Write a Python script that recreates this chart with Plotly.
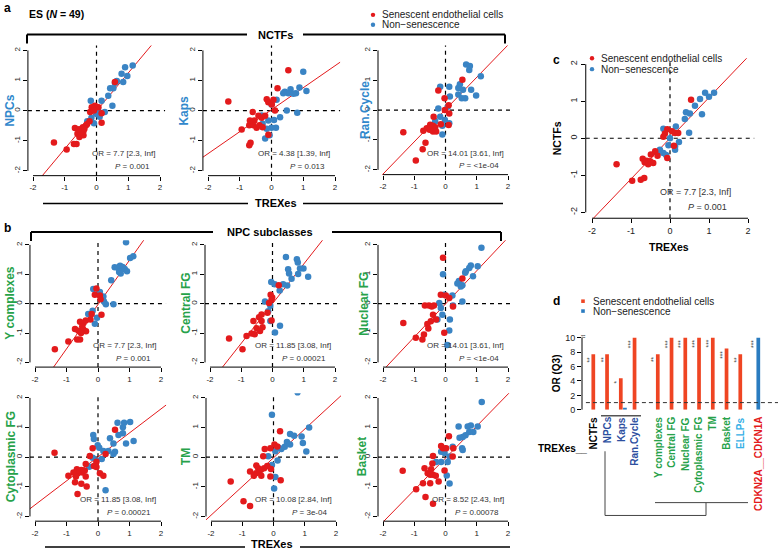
import numpy as np
import plotly.graph_objects as go

# ---------------- data ----------------
NPCS_SEN_X = [0.58, -0.05, -0.15, 0.06, 0.16, -0.20, -0.08, 0.16, -0.22, -0.33, -0.43, -0.68, -0.52, -0.60, -0.47, -0.41, -0.54, -0.41, -1.34, -0.71, -0.63, -0.94, -0.30, -0.50, -0.55, -0.38]
NPCS_SEN_Y = [0.95, 0.16, 0.11, 0.11, -0.09, -0.05, 0.00, -0.40, -0.35, -0.49, -0.55, -0.58, -0.66, -0.77, -0.77, -0.68, -0.88, -0.82, -1.06, -1.11, -1.11, -1.29, -0.45, -0.72, -0.62, -0.60]
NPCS_NON_X = [1.14, 0.90, 0.97, 0.79, 0.84, 0.64, 0.58, 0.43, 0.53, 0.37, 0.50, 0.16, -0.18, -0.16, 0.00, 0.10, 0.26, -0.08, -0.29, 0.05, 0.03]
NPCS_NON_Y = [1.50, 1.44, 1.15, 1.22, 0.95, 0.98, 0.92, 0.74, 0.74, 0.49, 0.16, 0.33, 0.33, -0.24, -0.11, -0.20, -0.05, -0.42, -0.35, 0.02, 0.10]

KAPS_SEN_X = [0.53, 0.19, -1.36, -0.15, -0.10, 0.01, 0.06, 0.11, -0.59, -0.54, -0.41, -0.31, -0.20, -0.70, -0.57, -0.47, -0.38, -0.94, -0.68, -0.28, -0.66, -0.70, -0.10]
KAPS_SEN_Y = [1.34, 0.74, 0.30, 0.38, 0.28, 0.20, 0.36, 0.00, -0.05, -0.33, -0.17, -0.24, -0.17, -0.49, -0.49, -0.57, -0.49, -0.63, -0.33, -0.55, -1.07, -1.15, -0.80]
KAPS_NON_X = [1.00, 0.88, 1.10, 0.60, 0.42, 0.53, 0.77, 0.37, 0.69, 0.48, 0.81, 0.16, 0.00, -0.31, -0.10, 0.08, 0.27, -0.15, 0.00, 0.14, -0.20, -0.06, -0.28]
KAPS_NON_Y = [1.29, 0.77, 0.65, 0.71, 0.63, 0.58, 0.58, 0.58, 0.56, 0.00, -0.07, 0.36, 0.20, -0.16, -0.33, -0.31, -0.22, -0.60, -0.57, -0.57, -0.93, -0.82, -0.44]

RAN_SEN_X = [0.54, -0.23, -0.03, 0.10, -0.02, -0.38, 0.12, -0.49, -0.40, -0.33, -0.60, -0.51, -0.71, -0.40, -0.15, 0.10, -0.30, -1.35, -0.64, -0.73, -0.95]
RAN_SEN_Y = [1.02, 0.66, 0.40, 0.16, 0.00, -0.22, -0.11, -0.49, -0.52, -0.57, -0.61, -0.66, -0.69, -0.72, -0.47, -0.50, -0.72, -0.74, -1.09, -1.31, -1.69]
RAN_NON_X = [1.13, 0.66, 0.78, 0.76, 0.46, 0.41, 0.56, 0.82, 0.98, 0.41, 0.52, 0.63, 0.12, -0.17, -0.23, 0.07, 0.14, -0.02, -0.33, -0.10, -0.17, 0.12, -0.10]
RAN_NON_Y = [1.13, 1.53, 1.48, 1.34, 0.87, 0.74, 0.68, 0.68, 0.49, 0.52, 0.40, 0.40, 0.78, 0.78, 0.05, 0.11, 0.46, -0.33, -0.38, -0.52, -0.22, -0.44, -0.82]

YC_SEN_X = [-0.05, -0.10, 0.06, 0.08, 0.11, -0.20, -0.24, -0.39, -0.46, -0.57, -0.50, -0.73, -0.62, -0.46, -0.38, -0.54, -0.66, -0.57, -0.94, -1.37]
YC_SEN_Y = [0.52, 0.30, 0.28, 0.15, -0.38, -0.35, -0.54, -0.57, -0.66, -0.62, -0.77, -0.86, -0.92, -0.89, -0.94, -1.00, -1.22, -1.22, -1.29, -1.55]
YC_NON_X = [0.89, 1.12, 1.02, 0.78, 0.53, 0.63, 0.70, 0.85, 0.92, 0.67, 0.72, 0.42, -0.15, 0.00, 0.17, 0.06, 0.19, 0.25, 0.49, -0.17, -0.31, -0.03, -0.10]
YC_NON_Y = [2.09, 1.61, 1.55, 1.25, 1.24, 1.22, 1.29, 1.18, 1.10, 1.08, 1.03, 0.80, 0.50, 0.32, 0.24, 0.40, 0.07, -0.02, -0.02, -0.24, -0.35, -0.48, -0.68]

CFG_SEN_X = [0.20, -0.06, -0.01, -0.03, -0.11, -0.35, -0.43, -0.61, -0.16, -0.35, -0.32, -0.51, -0.67, -0.57, -0.40, -0.83, -1.39, -0.96, -0.03]
CFG_SEN_Y = [0.63, 0.30, 0.21, 0.13, 0.02, -0.37, -0.46, -0.59, -0.31, -0.59, -0.80, -0.84, -1.02, -1.04, -0.93, -1.10, -1.19, -1.55, -0.57]
CFG_NON_X = [0.43, 0.78, 0.81, 0.99, 0.88, 1.14, 0.50, 0.53, 0.82, 0.61, 0.47, 0.34, 0.23, -0.04, 0.07, -0.24, -0.07, -0.14, -0.07, 0.24, 0.08]
CFG_NON_Y = [1.59, 1.51, 1.40, 1.20, 1.20, 0.92, 1.17, 1.03, 1.01, 0.85, 0.62, 0.66, 0.45, 0.74, 0.66, 0.07, -0.07, -0.26, -0.59, -0.75, -0.98]

NFG_SEN_X = [-0.08, 0.54, -0.15, 0.01, 0.12, -0.66, -0.53, -0.44, -0.37, 0.24, -0.40, -0.47, -0.58, -0.55, -0.69, -0.95, -0.74, -1.35, -0.04, -0.30]
NFG_SEN_Y = [1.56, 0.86, 0.30, 0.28, 0.19, -0.06, -0.06, -0.10, -0.06, -0.10, -0.38, -0.60, -0.69, -0.85, -1.05, -1.16, -1.22, -0.66, -0.99, -0.54]
NFG_NON_X = [1.15, 1.03, 0.81, 0.76, 0.65, 0.88, 0.63, 0.43, 0.54, 0.49, 0.38, -0.08, -0.04, 0.22, 0.54, 0.24, -0.20, -0.15, -0.10, -0.26, 0.14, 0.12, 0.06]
NFG_NON_Y = [1.90, 1.27, 1.30, 1.21, 1.10, 0.93, 1.05, 0.77, 0.63, 0.58, 0.69, 1.00, 0.30, 0.28, 0.07, -0.06, 0.02, -0.15, -0.38, -0.54, -0.54, -0.91, -1.41]

CYT_SEN_X = [0.54, -1.38, -0.17, -0.26, 0.24, -0.05, -0.13, -0.05, -0.39, -0.67, -0.53, -0.49, -0.42, -0.64, -0.78, -0.94, -0.70, -0.39, 0.06, 0.17, -0.73, -0.53, -0.36, -0.65]
CYT_SEN_Y = [0.93, 0.15, 0.30, 0.04, 0.11, -0.15, -0.30, -0.33, -0.23, -0.41, -0.43, -0.52, -0.45, -0.54, -0.52, -0.63, -0.65, -0.65, -0.54, -0.63, -0.85, -0.90, -0.99, -1.24]
CYT_NON_X = [1.02, 0.83, 0.62, 0.79, 0.79, 0.65, 1.13, 0.89, 0.49, 0.38, 0.54, 0.49, -0.15, -0.13, -0.01, 0.04, 0.17, 0.33, -0.17, -0.05, 0.12, -0.28, 0.24]
CYT_NON_Y = [1.19, 1.16, 1.16, 1.01, 0.81, 0.75, 0.55, 0.46, 0.46, 0.64, 0.18, 0.11, 0.75, 0.61, 0.40, 0.32, 0.21, 0.21, -0.02, -0.11, -0.06, -0.32, -1.12]

TM_SEN_X = [0.21, 0.03, -0.10, -0.28, -0.33, 0.12, -0.55, -0.49, -0.30, -0.75, -0.56, -0.46, -0.08, -0.63, -0.39, -0.10, 0.23, -1.37, -0.96, -0.75, -0.20, -0.40]
TM_SEN_Y = [0.88, 0.43, 0.30, 0.28, 0.03, 0.36, -0.28, -0.37, -0.37, -0.48, -0.54, -0.48, -0.40, -0.63, -0.63, -0.65, -0.78, -0.82, -1.49, -1.65, -0.30, -0.42]
TM_NON_X = [0.77, -0.05, 1.14, 0.53, 0.66, 0.90, 0.94, 0.43, 0.53, 0.36, 0.17, 0.06, 0.25, 1.05, -0.17, 0.13, -0.05, 0.06, 0.02]
TM_NON_Y = [2.19, 1.43, 1.00, 0.78, 0.72, 0.70, 0.48, 0.51, 0.43, 0.35, 0.32, 0.20, 0.28, 0.19, 0.03, -0.11, -0.26, -0.67, -1.06]

BSK_SEN_X = [0.11, -0.14, -0.08, 0.02, 0.25, -0.40, 0.23, -0.42, -0.67, -0.46, -0.57, -0.40, -0.31, -0.49, -0.22, -0.72, -0.49, -0.03, -1.37, -0.94, -0.64, -0.40]
BSK_SEN_Y = [0.71, 0.38, 0.30, 0.30, 0.30, 0.04, 0.02, -0.21, -0.37, -0.41, -0.54, -0.59, -0.63, -0.59, -0.82, -0.88, -0.88, -0.45, -0.46, -1.08, -1.34, -1.57]
BSK_NON_X = [1.16, 1.03, 0.81, 0.71, 0.42, 0.89, 0.76, 0.64, 0.55, 0.45, 0.53, 0.55, 0.23, -0.14, -0.03, -0.30, -0.14, 0.07, 0.13, 0.04, 0.13]
BSK_NON_Y = [1.86, 1.04, 1.07, 1.04, 1.04, 0.85, 0.85, 0.74, 0.68, 0.66, 0.30, 0.24, 0.35, 0.18, 0.14, -0.16, -0.16, -0.16, 0.02, -0.62, -0.89]

NCTF_SEN_X = [0.54, -0.07, 0.05, -0.13, 0.13, 0.21, -0.17, 0.10, -0.07, -0.38, -0.49, -0.32, -0.70, -0.60, -0.51, -0.43, -0.56, -0.65, -1.37, -0.97, -0.75, -0.66]
NCTF_SEN_Y = [1.04, 0.24, 0.19, 0.13, 0.14, 0.14, 0.04, -0.20, -0.53, -0.35, -0.44, -0.47, -0.55, -0.61, -0.62, -0.67, -0.70, -0.65, -0.70, -1.15, -1.12, -1.07]
NCTF_NON_X = [1.13, 0.90, 1.00, 0.77, 0.64, 0.82, 0.41, 0.51, 0.38, 0.49, 0.15, -0.17, 0.00, -0.04, 0.23, 0.13, 0.13, -0.26, -0.32, -0.17, -0.10]
NCTF_NON_Y = [1.23, 1.23, 1.12, 1.06, 0.88, 0.65, 0.70, 0.67, 0.52, 0.15, 0.32, 0.26, 0.00, -0.19, -0.10, -0.22, -0.31, -0.31, -0.40, -0.40, -0.45]

PANEL_NAMES = ["NPCs", "Kaps", "Ran.Cycle", "Y complexes", "Central FG", "Nuclear FG",
               "Cytoplasmic FG", "TM", "Basket", "NCTFs"]
FIT_SLOPE = [1.26, 0.73, 1.08, 1.51, 1.35, 1.13, 0.81, 0.97, 1.08, 1.10]
FIT_INTERCEPT = [-0.01, 0.03, 0.02, -0.03, 0.00, -0.01, 0.01, -0.02, -0.03, 0.00]
OR_TEXT = ["7.7 [2.3, Inf]", "4.38 [1.39, Inf]", "14.01 [3.61, Inf]", "7.7 [2.3, Inf]",
           "11.85 [3.08, Inf]", "14.01 [3.61, Inf]", "11.85 [3.08, Inf]", "10.08 [2.84, Inf]",
           "8.52 [2.43, Inf]", "7.7 [2.3, Inf]"]
P_TEXT = ["0.001", "0.013", "&lt;1e-04", "0.001", "0.00021", "&lt;1e-04", "0.00021", "3e-04",
          "0.00078", "0.001"]
AXIS_TICKS = [-2, -1, 0, 1, 2]
AXIS_TICK_TEXT = ["-2", "-1", "0", "1", "2"]

BAR_CATS = ["NCTFs", "NPCs", "Kaps", "Ran.Cycle", "Y complexes", "Central FG", "Nuclear FG",
            "Cytoplasmic FG", "TM", "Basket", "ELLPs", "CDKN2A__CDKN1A"]
BAR_GROUP = [0, 0, 0, 0, 1, 1, 1, 1, 1, 1, 1, 2]
SEN_OR = [7.7, 7.7, 4.38, 14.01, 7.7, 11.85, 14.01, 11.85, 10.08, 8.52, 7.7, 0]
NON_OR = [0, 0, 0.25, 0, 0, 0, 0, 0, 0, 0, 0, 14.0]
STARS = ["**", "**", "*", "***", "**", "***", "***", "***", "***", "***", "**", "***"]
OR_TICKS = [0, 2, 4, 6, 8, 10]

# ---------------- styling ----------------
W, H = 778, 556
FONT = "Liberation Sans, Arial, Helvetica, sans-serif"
RED = "#E31A1C"
BLUE = "#3A84C4"
BAR_RED = "#EF4523"
BAR_BLUE = "#2A7CC0"
LBL_BLUE = "#3188CC"
LBL_GREEN = "#27A24A"
DARK_BLUE = "#2D4F9F"
ELLP_BLUE = "#36B0E6"


def px(x):
    return x / W


def py(y):
    return 1 - y / H


def box(xm2, xp2, yp2, ym2):
    sx = (xp2 - xm2) / 4.0
    sy = (ym2 - yp2) / 4.0
    return (xm2 - 0.16 * sx, yp2 - 0.16 * sy, xp2 + 0.16 * sx, ym2 + 0.16 * sy)


# pixel layout of each scatter (tick -2 / 2 positions), label x centre, label colour
PANEL_BOX = [
    box(33, 160, 49, 171), box(208, 335, 49, 171), box(383, 508, 49, 170),
    box(35, 161, 246, 365), box(210, 335, 246, 365), box(383, 508, 246, 365),
    box(35, 161, 401, 521), box(211, 336, 401, 521), box(383, 508, 401, 521),
    box(592, 748, 63, 213),
]
LABEL_X = [10, 184, 365, 10, 186, 364, 11, 186, 362, 557]
LABEL_COL = [LBL_BLUE] * 3 + [LBL_GREEN] * 6 + ["black"]

DATA = [
    (NPCS_SEN_X, NPCS_SEN_Y, NPCS_NON_X, NPCS_NON_Y),
    (KAPS_SEN_X, KAPS_SEN_Y, KAPS_NON_X, KAPS_NON_Y),
    (RAN_SEN_X, RAN_SEN_Y, RAN_NON_X, RAN_NON_Y),
    (YC_SEN_X, YC_SEN_Y, YC_NON_X, YC_NON_Y),
    (CFG_SEN_X, CFG_SEN_Y, CFG_NON_X, CFG_NON_Y),
    (NFG_SEN_X, NFG_SEN_Y, NFG_NON_X, NFG_NON_Y),
    (CYT_SEN_X, CYT_SEN_Y, CYT_NON_X, CYT_NON_Y),
    (TM_SEN_X, TM_SEN_Y, TM_NON_X, TM_NON_Y),
    (BSK_SEN_X, BSK_SEN_Y, BSK_NON_X, BSK_NON_Y),
    (NCTF_SEN_X, NCTF_SEN_Y, NCTF_NON_X, NCTF_NON_Y),
]

fig = go.Figure()
layout = {}
shapes = []
annotations = []


def names(n):
    if n == 1:
        return "xaxis", "yaxis", "x", "y"
    return f"xaxis{n}", f"yaxis{n}", f"x{n}", f"y{n}"


def hline(x0, x1, y, width=1.0, color="black", dash=None):
    d = dict(color=color, width=width)
    if dash:
        d["dash"] = dash
    shapes.append(dict(type="line", xref="paper", yref="paper", x0=px(x0), x1=px(x1),
                       y0=py(y), y1=py(y), line=d))


def vline(x, y0, y1, width=1.0, color="black"):
    shapes.append(dict(type="line", xref="paper", yref="paper", x0=px(x), x1=px(x),
                       y0=py(y0), y1=py(y1), line=dict(color=color, width=width)))


def text(x, y, s, size=10, color="black", bold=False, xanchor="center", yanchor="middle",
         angle=0, xref="paper", yref="paper"):
    if bold:
        s = f"<b>{s}</b>"
    annotations.append(dict(x=x, y=y, xref=xref, yref=yref, text=s, showarrow=False,
                            xanchor=xanchor, yanchor=yanchor, textangle=angle,
                            font=dict(family=FONT, size=size, color=color)))


for i, (sx, sy, nx, ny) in enumerate(DATA):
    n = i + 1
    xa, ya, xr, yr = names(n)
    l, t, r, b = PANEL_BOX[i]
    big = (n == 10)
    tick_size = 9 if big else 8
    common = dict(range=[-2.16, 2.16], showgrid=False, zeroline=False, showline=False,
                  ticks="outside", ticklen=4, tickwidth=1, tickcolor="black",
                  tickvals=AXIS_TICKS, ticktext=AXIS_TICK_TEXT,
                  tickfont=dict(family=FONT, size=tick_size, color="#222"), fixedrange=True)
    layout[xa] = dict(domain=[px(l), px(r)], anchor=yr, **common)
    layout[ya] = dict(domain=[py(b), py(t)], anchor=xr, tickangle=-90, **common)

    # regression line
    lx = np.array([-3.0, 3.0])
    fig.add_trace(go.Scatter(x=lx, y=FIT_SLOPE[i] * lx + FIT_INTERCEPT[i], mode="lines",
                             line=dict(color=RED, width=1), xaxis=xr, yaxis=yr,
                             hoverinfo="skip"))
    msize = 6.5
    fig.add_trace(go.Scatter(x=nx, y=ny, mode="markers", marker=dict(color=BLUE, size=msize),
                             xaxis=xr, yaxis=yr))
    fig.add_trace(go.Scatter(x=sx, y=sy, mode="markers", marker=dict(color=RED, size=msize),
                             xaxis=xr, yaxis=yr))

    # R-style axis lines (span the tick range only)
    shapes.append(dict(type="line", xref=xr, yref=f"{yr} domain", x0=-2, x1=2, y0=0, y1=0,
                       line=dict(color="black", width=1)))
    shapes.append(dict(type="line", xref=f"{xr} domain", yref=yr, x0=0, x1=0, y0=-2, y1=2,
                       line=dict(color="black", width=1)))
    # dashed zero lines
    shapes.append(dict(type="line", xref=f"{xr} domain", yref=yr, x0=0, x1=1, y0=0, y1=0,
                       layer="below", line=dict(color="black", width=1.2, dash="4px,4px")))
    shapes.append(dict(type="line", xref=xr, yref=f"{yr} domain", x0=0, x1=0, y0=0, y1=1,
                       layer="below", line=dict(color="black", width=1.2, dash="4px,4px")))

    # OR / P
    fs = 9 if big else 8
    orx, prx = (1.62, 1.52) if big else (1.92, 1.76)
    text(orx, -1.44, "OR = " + OR_TEXT[i], size=fs, color="#333", xanchor="right",
         xref=xr, yref=yr)
    text(prx, -1.86, "<i>P</i> = " + P_TEXT[i], size=fs, color="#333", xanchor="right",
         xref=xr, yref=yr)

    # y label
    cy = (t + b) / 2
    text(px(LABEL_X[i]), py(cy), PANEL_NAMES[i], size=10.5 if big else 12,
         color=LABEL_COL[i], bold=True, angle=-90)

# panel c x label
text(px(669), py(248), "TREXes", size=10.5, bold=True)

# ---------------- panel d (bar chart) ----------------
GAPS = [0.0, 0.69, 1.0]
pos = np.arange(len(BAR_CATS)) + np.array([GAPS[g] for g in BAR_GROUP])
sen = np.minimum(np.array(SEN_OR, dtype=float), 10)
non = np.minimum(np.array(NON_OR, dtype=float), 10)
non_pos = pos + np.where(np.array(SEN_OR) > 0, 0.3, 0.0)

slot = 13.75
x0px = 593.3
d_left, d_right = 582, 778
d_bottom, d_top = 413, 413 - 10.4 * 7.3
layout["xaxis11"] = dict(domain=[px(d_left), px(d_right)],
                         range=[(d_left - x0px) / slot, (d_right - x0px) / slot],
                         anchor="y11", visible=False, fixedrange=True)
layout["yaxis11"] = dict(domain=[py(d_bottom), py(d_top)], range=[0, 10.4], anchor="x11",
                         showgrid=False, zeroline=False, showline=False, ticks="outside",
                         ticklen=4, tickcolor="black", tickvals=OR_TICKS,
                         tickfont=dict(family=FONT, size=9, color="#222"), fixedrange=True)
fig.add_trace(go.Bar(x=pos, y=sen, width=0.27, marker=dict(color=BAR_RED, line=dict(width=0)),
                     xaxis="x11", yaxis="y11"))
fig.add_trace(go.Bar(x=non_pos, y=non, width=0.27, marker=dict(color=BAR_BLUE, line=dict(width=0)),
                     xaxis="x11", yaxis="y11"))
shapes.append(dict(type="line", xref="x11 domain", yref="y11", x0=0, x1=0, y0=0, y1=10,
                   line=dict(color="black", width=1)))
shapes.append(dict(type="line", xref="x11 domain", yref="y11", x0=0.02, x1=1, y0=1, y1=1,
                   line=dict(color="#333", width=1, dash="4px,3px")))
for k, cat in enumerate(BAR_CATS):
    top = sen[k] if sen[k] > 0 else non[k]
    xs = pos[k] if sen[k] > 0 else non_pos[k]
    text(xs - 0.3, top, STARS[k], size=6.5, color="#444", yanchor="top", xanchor="center",
         angle=-90, xref="x11", yref="y11")
LBL_COLORS = ["black", DARK_BLUE, DARK_BLUE, DARK_BLUE] + [LBL_GREEN] * 6 + [ELLP_BLUE, RED]
for k, cat in enumerate(BAR_CATS):
    text(pos[k], py(418), cat, size=10, color=LBL_COLORS[k], bold=True, angle=-90,
         yanchor="top", xref="x11", yref="paper")
text(px(589), py(452), "TREXes__", size=10, bold=True, xanchor="right")
text(px(556), py(376), "OR (Q3)", size=10, bold=True, angle=-90)
text(px(583), py(339), "≈", size=8, color="#333")

# dendrogram lines
vline(605, 455, 520, color="#444")
hline(605, 706, 520, color="#444")
vline(706, 520, 507, color="#444")
hline(655, 748, 507, color="#444")
hline(601, 641, 419, width=1.5, color="#555")

# ---------------- titles, brackets, legends ----------------
text(px(2), py(6), "a", size=12, bold=True, xanchor="left")
text(px(27), py(12), "ES (<i>N</i> = 49)", size=10.5, bold=True, xanchor="left")
text(px(2), py(229), "b", size=12, bold=True, xanchor="left")
text(px(551), py(59), "c", size=12, bold=True, xanchor="left")
text(px(551), py(303), "d", size=12, bold=True, xanchor="left")

# NCTFs bracket
vline(27, 42, 33, width=2)
hline(27, 247, 33, width=2)
hline(303, 505, 33, width=2)
vline(505, 33, 42, width=2)
text(px(275), py(33), "NCTFs", size=11, bold=True)
# TREXes (panel a)
hline(43, 248, 204, width=1.5)
hline(303, 503, 204, width=1.5)
text(px(276), py(204), "TREXes", size=11, bold=True)
# NPC subclasses bracket
vline(31, 242, 233, width=2)
hline(31, 213, 233, width=2)
hline(332, 501, 233, width=2)
vline(501, 233, 242, width=2)
text(px(270), py(233), "NPC subclasses", size=11, bold=True)
# TREXes (panel b)
hline(45, 245, 552, width=1.5)
hline(300, 510, 552, width=1.5)
text(px(271.5), py(549), "TREXes", size=11, bold=True)


def legend_dot(x, y, color, r=2.2):
    shapes.append(dict(type="circle", xref="paper", yref="paper", x0=px(x - r), x1=px(x + r),
                       y0=py(y + r), y1=py(y - r), fillcolor=color, line=dict(width=0)))


def legend_sq(x, y, color, r=1.8):
    shapes.append(dict(type="rect", xref="paper", yref="paper", x0=px(x - r), x1=px(x + r),
                       y0=py(y + r), y1=py(y - r), fillcolor=color, line=dict(width=0)))


legend_dot(373, 13, RED)
legend_dot(373, 23, BLUE)
text(px(380), py(13), "Senescent endothelial cells", size=10, color="#222", xanchor="left")
text(px(380), py(23), "Non\u2212senescence", size=10, color="#222", xanchor="left")

legend_dot(592, 57, RED)
legend_dot(592, 68, BLUE)
text(px(599), py(57), "Senescent endothelial cells", size=10, color="#222", xanchor="left")
text(px(599), py(68), "Non\u2212senescence", size=10, color="#222", xanchor="left")

legend_sq(583, 303, BAR_RED)
legend_sq(583, 313, BAR_BLUE)
text(px(591), py(303), "Senescent endothelial cells", size=10, color="#222", xanchor="left")
text(px(591), py(313), "Non\u2212senescence", size=10, color="#222", xanchor="left")

fig.update_layout(
    width=W, height=H, autosize=False,
    margin=dict(l=0, r=0, t=0, b=0, pad=0),
    paper_bgcolor="white", plot_bgcolor="white",
    showlegend=False, barmode="overlay",
    font=dict(family=FONT, size=10, color="black"),
    shapes=shapes, annotations=annotations,
    **layout,
)
fig.write_html("out.html", config={"displayModeBar": False},
               post_script="document.body.style.margin='0px';document.body.style.padding='0px';")
